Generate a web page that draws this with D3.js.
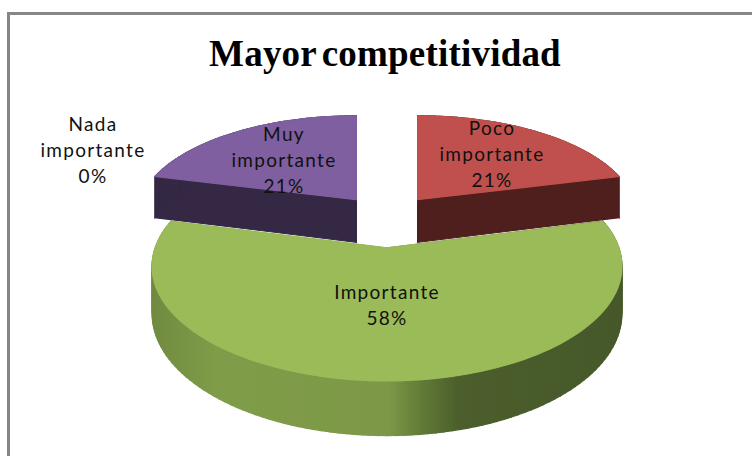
<!DOCTYPE html>
<html>
<head>
<meta charset="utf-8">
<script src="https://cdn.jsdelivr.net/npm/d3@7"></script>
<style>
  html, body { margin: 0; padding: 0; background: #fff; }
  svg { display: block; }
</style>
</head>
<body>
<script>
// Survey answers, in clockwise order starting from twelve o'clock
const categories = ["Poco importante", "Importante", "Muy importante", "Nada importante"];
const shares = [21, 58, 21, 0];
const topColors = ["#c0504d", "#9bbb59", "#7f5f9f", "#7f5f9f"];
const sideColors = ["#4e1f1c", "url(#greenSide)", "#342845", "#342845"];
const chartTitle = "Mayor competitividad";

const width = 752, height = 456;

// Tilted-disc projection: u to the right, v away from the viewer, both in disc radii
const tilt = { cx: 387, cy: 220.1, ax: 222.5, ay: 102.7, persp: 0.155, depth: 44 };
// Slices pull apart sideways in pixels and front-to-back in disc radii
const explode = { x: 50, v: 0.26 };

function project(u, v, shiftX, lowered) {
  const w = 1 + tilt.persp * v;
  return [
    tilt.cx + shiftX + tilt.ax * u / w,
    tilt.cy - tilt.ay * v / w + (lowered ? tilt.depth / w : 0)
  ];
}

const svg = d3.select("body").append("svg")
  .attr("width", width).attr("height", height);

// Shading along the front wall of the large slice
const grad = svg.append("defs").append("linearGradient")
  .attr("id", "greenSide")
  .attr("gradientUnits", "userSpaceOnUse")
  .attr("x1", 150).attr("y1", 0).attr("x2", 625).attr("y2", 0);
[[0, "#6f8a3f"], [0.14, "#7f9c49"], [0.5, "#7d9947"], [0.58, "#5f7735"], [0.65, "#4b5e2b"], [1, "#46582a"]]
  .forEach(([o, c]) => grad.append("stop").attr("offset", o).attr("stop-color", c));

// Frame: only the top and left edges fall inside the page
svg.append("path")
  .attr("d", `M8.5,${height} V13.5 H${width}`)
  .attr("fill", "none").attr("stroke", "#868686").attr("stroke-width", 3);

svg.append("text")
  .attr("x", 385).attr("y", 66)
  .attr("text-anchor", "middle")
  .attr("font-family", "'Liberation Serif', serif")
  .attr("font-weight", "bold")
  .attr("font-size", 37)
  .attr("letter-spacing", 0.2)
  .attr("word-spacing", -4)
  .attr("fill", "#000")
  .text(chartTitle);

const pie = d3.pie().sort(null).value(d => d)(shares);

// Outline of one wedge in disc coordinates: apex first, then the outer arc
function wedge(arc) {
  const mid = (arc.startAngle + arc.endAngle) / 2;
  const ov = Math.cos(mid) * explode.v;
  const steps = Math.max(2, Math.ceil((arc.endAngle - arc.startAngle) / 0.03));
  const angles = d3.range(steps + 1).map(i => arc.startAngle + (arc.endAngle - arc.startAngle) * i / steps);
  return {
    shiftX: Math.sin(mid) * explode.x,
    pts: [[0, ov]].concat(angles.map(a => [Math.sin(a), ov + Math.cos(a)]))
  };
}

const line = d3.line();
const visible = pie.filter(a => a.value > 0);

// Slices furthest from the viewer are painted first
const order = visible.slice().sort((a, b) =>
  Math.cos((b.startAngle + b.endAngle) / 2) - Math.cos((a.startAngle + a.endAngle) / 2));

order.forEach(arc => {
  const { shiftX, pts } = wedge(arc);
  const g = svg.append("g");
  const closed = pts.concat([pts[0]]);
  const quads = d3.pairs(closed).map(([a, b]) => [
    project(a[0], a[1], shiftX, false), project(b[0], b[1], shiftX, false),
    project(b[0], b[1], shiftX, true), project(a[0], a[1], shiftX, true)
  ]);
  g.selectAll("path.side").data(quads).join("path")
    .attr("class", "side")
    .attr("d", q => line(q) + "Z")
    .attr("fill", sideColors[arc.index])
    .attr("stroke", sideColors[arc.index])
    .attr("stroke-width", 1.2);
  g.append("path")
    .attr("d", line(pts.map(p => project(p[0], p[1], shiftX, false))) + "Z")
    .attr("fill", topColors[arc.index])
    .attr("stroke", topColors[arc.index])
    .attr("stroke-width", 1.2);
});

// Centre of each three-line data label: x, first baseline
const labelSpots = [[492, 135], [387, 299], [284, 141], [93, 131]];

categories.forEach((name, i) => {
  const rows = name.split(" ").concat([shares[i] + "%"]);
  const t = svg.append("text")
    .attr("text-anchor", "middle")
    .attr("font-family", "Lato, sans-serif")
    .attr("font-size", 19)
    .attr("letter-spacing", 1.3)
    .attr("fill", "#111");
  rows.forEach((r, k) => {
    t.append("tspan")
      .attr("x", labelSpots[i][0])
      .attr("y", labelSpots[i][1] + k * 26)
      .text(r);
  });
});
</script>
</body>
</html>
